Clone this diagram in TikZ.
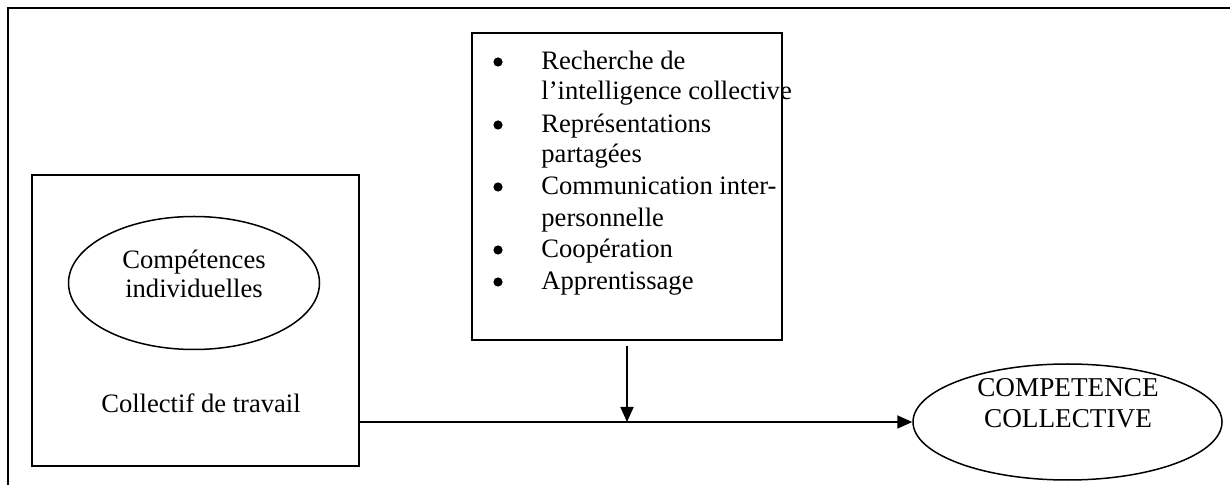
\documentclass[tikz,border=0pt]{standalone}
\usepackage{fontspec}
\setmainfont{Liberation Serif}
\usetikzlibrary{arrows.meta,shapes.geometric}
\begin{document}
\begin{tikzpicture}[x=0.5pt,y=-0.5pt,
  font=\fontsize{13.3}{16}\selectfont,
  frame/.style={line width=0.9pt},
  box/.style={draw,line width=0.75pt,rectangle,inner sep=0pt},
  oval/.style={draw,line width=0.75pt,ellipse,inner sep=0pt},
  txt/.style={inner sep=0pt,anchor=base},
  item/.style={inner sep=0pt,anchor=base west},
  bul/.style={circle,fill,inner sep=0pt,minimum size=4.6pt},
  conn/.style={line width=0.9pt,-{Triangle[length=7.5pt,width=6.5pt]}}]
\useasboundingbox (0,0) rectangle (1230,485);
% outer frame (cropped)
\coordinate (f0) at (8,8);
\coordinate (f1) at (1232,8);
\coordinate (f2) at (8,487);
\draw[frame] (f1) -- (f0) -- (f2);
% left box
\node[box,minimum width=163.5pt,minimum height=145.5pt] (lb) at (195.5,320.5) {};
\node[oval,minimum width=125.5pt,minimum height=66.5pt] (ci) at (194,283) {};
\node[txt] (ci1) at (194,269) {Compétences};
\node[txt] (ci2) at (194,298) {individuelles};
\node[txt] (ct) at (201,413) {Collectif de travail};
% top box
\node[box,minimum width=155pt,minimum height=153.5pt] (tb) at (627,186.5) {};
\foreach \y/\t [count=\i] in {70/{Recherche de},100/{l’intelligence collective},133/{Représentations},163/{partagées},195/{Communication inter-},227/{personnelle},258/{Coopération},290/{Apprentissage}}{
  \node[item] (it\i) at (541,\y) {\t};
}
\foreach \y [count=\i] in {70,133,195,258,290}{
  \node[bul] (b\i) at (498,\y-8) {};
}
% right ellipse
\node[oval,minimum width=154.5pt,minimum height=58pt] (ce) at (1067.5,422) {};
\node[txt,font=\fontsize{13.6}{16}\selectfont] (ce1) at (1068,397) {COMPETENCE};
\node[txt,font=\fontsize{13.6}{16}\selectfont] (ce2) at (1068,428) {COLLECTIVE};
% connectors
\coordinate (j) at (tb.south |- ce.west);
\coordinate (ts) at ([yshift=-2.5pt]tb.south);
\draw[conn] (lb.east |- ce.west) -- (ce.west);
\draw[conn] (ts) -- (j);
\end{tikzpicture}
\end{document}
